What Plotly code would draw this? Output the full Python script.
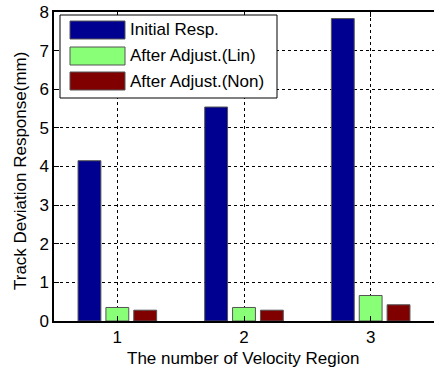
import plotly.graph_objects as go

categories = [1, 2, 3]
initial_resp = [4.15, 5.54, 7.83]
after_lin = [0.35, 0.35, 0.66]
after_non = [0.28, 0.28, 0.42]
series_names = ["Initial Resp.", "After Adjust.(Lin)", "After Adjust.(Non)"]
colors = ["#000090", "#88FF77", "#800000"]
y_ticks = [0, 1, 2, 3, 4, 5, 6, 7, 8]

FONT = "Arial, Liberation Sans, sans-serif"
FS = 17

fig = go.Figure()
for name, vals, c in zip(series_names, [initial_resp, after_lin, after_non], colors):
    fig.add_trace(go.Bar(x=categories, y=vals, name=name, marker=dict(color=c, line=dict(color="#555555", width=1)),
                         showlegend=False))

axis_common = dict(showline=True, linecolor="black", linewidth=1.5, ticks="inside",
                   ticklen=5, tickcolor="black", showgrid=True, gridcolor="black", gridwidth=1,
                   griddash="3px,3px", zeroline=False, automargin=False,
                   tickfont=dict(family=FONT, size=FS, color="black"))

fig.update_layout(
    width=434, height=371,
    margin=dict(l=54, r=0, t=12, b=50, autoexpand=False),
    paper_bgcolor="white", plot_bgcolor="white",
    barmode="group", bargap=0.34, bargroupgap=0.18,
    font=dict(family=FONT, size=FS, color="black"),
    xaxis=dict(range=[0.5, 3.5], tickvals=categories, ticktext=[str(c) for c in categories],
               mirror="ticks", **axis_common),
    yaxis=dict(range=[0, 8], tickvals=y_ticks, mirror=False, **axis_common),
)

# legend and axis titles placed in paper pixels
W, H = 380, 309
def px(x):
    return (x - 54) / W
def py(y):
    return 1 - (y - 12) / H

shapes = [dict(type="rect", xref="paper", yref="paper", x0=px(60), x1=px(277), y0=py(98), y1=py(15),
               line=dict(color="black", width=1), fillcolor="white", layer="above")]
annotations = []
rows = [(21, 39), (47, 65), (72, 90)]
for (y0, y1), name, c in zip(rows, series_names, colors):
    shapes.append(dict(type="rect", xref="paper", yref="paper", x0=px(70), x1=px(125), y0=py(y1), y1=py(y0),
                       line=dict(color="#555555", width=1), fillcolor=c, layer="above"))
    annotations.append(dict(xref="paper", yref="paper", x=px(128), y=py((y0 + y1) / 2), text=name,
                            showarrow=False, xanchor="left", yanchor="middle",
                            font=dict(family=FONT, size=FS, color="black")))
annotations.append(dict(xref="paper", yref="paper", x=px(243), y=py(358), text="The number of Velocity Region",
                        showarrow=False, xanchor="center", yanchor="middle",
                        font=dict(family=FONT, size=FS, color="black")))
annotations.append(dict(xref="paper", yref="paper", x=px(20), y=py(171), text="Track Deviation Response(mm)",
                        showarrow=False, xanchor="center", yanchor="middle", textangle=-90,
                        font=dict(family=FONT, size=FS, color="black")))
fig.update_layout(shapes=shapes, annotations=annotations)

fig.write_html("out.html", config={"displayModeBar": False},
               post_script="document.body.style.margin='0';document.body.style.overflow='hidden';")
